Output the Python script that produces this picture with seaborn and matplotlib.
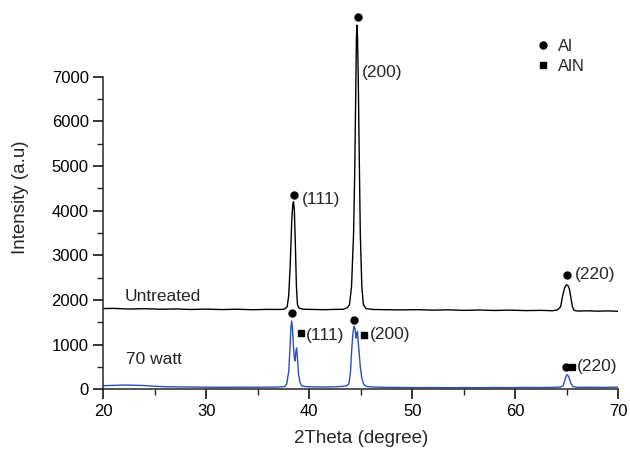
import matplotlib
matplotlib.use("Agg")
import matplotlib.pyplot as plt
import pandas as pd
import seaborn as sns
from matplotlib.ticker import MultipleLocator
from matplotlib.lines import Line2D

sns.set_style("ticks")
plt.rcParams['font.family'] = ['Liberation Sans', 'DejaVu Sans']

# untreated sample (black)
untreated_theta = [20, 21, 22.5, 24, 25.5, 27, 28.5, 30, 31.5, 33, 34.5, 36, 37.2, 37.6,
                   37.85, 38.0, 38.15, 38.3, 38.4, 38.47, 38.55, 38.65, 38.75, 38.85, 39.0, 39.4,
                   40.5, 41.5, 42.5, 43.3, 43.7, 43.9, 44.1, 44.3, 44.42, 44.5, 44.57, 44.62,
                   44.68, 44.75, 44.85, 44.95, 45.1, 45.25, 45.5, 46.2, 47.5, 49, 50.5, 52,
                   53.5, 55, 56.5, 58, 59.5, 61, 62.5, 63.6, 64.1, 64.4, 64.6, 64.8, 64.95,
                   65.1, 65.25, 65.4, 65.55, 65.7, 66.1, 67, 68, 69, 70]
untreated_int = [1810, 1815, 1800, 1808, 1795, 1802, 1790, 1798, 1788, 1795, 1785, 1792, 1790, 1800,
                 1850, 2100, 2800, 3800, 4150, 4200, 4000, 3200, 2300, 1900, 1820, 1795,
                 1790, 1785, 1792, 1795, 1830, 1900, 2300, 3500, 5000, 6500, 7800, 8150,
                 7900, 7000, 5200, 3500, 2300, 1900, 1810, 1790, 1785, 1780, 1786, 1775,
                 1782, 1770, 1778, 1768, 1775, 1765, 1770, 1762, 1780, 1850, 2100, 2280, 2340,
                 2330, 2250, 2050, 1850, 1770, 1755, 1760, 1752, 1758, 1750]

# 70 watt sample (blue)
watt_theta = [20, 21, 22, 23, 24, 25, 26, 27.5, 29, 30.5, 32, 33.5, 35, 36.5, 37.3, 37.6,
              37.8, 38.0, 38.12, 38.22, 38.29, 38.36, 38.45, 38.55, 38.62, 38.7, 38.77, 38.85,
              38.95, 39.1, 39.3, 39.8, 40.5, 41.5, 42.5, 43.3, 43.65, 43.85, 44.0, 44.12,
              44.25, 44.35, 44.45, 44.52, 44.6, 44.68, 44.75, 44.85, 44.95, 45.1, 45.3, 45.6,
              46.3, 47.5, 49, 50.5, 52, 53.5, 55, 56.5, 58, 59.5, 61, 62.5, 63.8, 64.4, 64.65,
              64.8, 64.95, 65.05, 65.2, 65.35, 65.55, 65.8, 66.5, 67.5, 68.5, 69.5, 70]
watt_int = [85, 92, 100, 95, 88, 72, 62, 58, 54, 50, 48, 52, 50, 53, 58, 65,
            120, 400, 900, 1400, 1530, 1400, 1000, 700, 640, 850, 930, 700,
            350, 150, 75, 62, 58, 55, 60, 72, 85, 130, 400, 900,
            1300, 1420, 1350, 1150, 1250, 1300, 1050, 800, 500, 250, 110, 65,
            55, 48, 45, 42, 44, 40, 43, 40, 45, 42, 46, 44, 48, 55, 85,
            200, 310, 330, 280, 160, 75, 52, 48, 50, 47, 52, 50]

# phase markers
al_theta = [38.51, 44.7, 64.99, 38.3, 44.37, 64.92]
al_int = [4360, 8340, 2570, 1700, 1550, 495]
aln_theta = [39.16, 45.34, 65.53]
aln_int = [1270, 1210, 500]

# peak labels
label_text = ['(111)', '(200)', '(220)', '(111)', '(200)', '(220)']
label_theta = [39.3, 45.1, 65.8, 39.68, 45.9, 65.95]
label_int = [4250, 7100, 2580, 1200, 1220, 520]

df_u = pd.DataFrame({'theta': untreated_theta, 'intensity': untreated_int})
df_w = pd.DataFrame({'theta': watt_theta, 'intensity': watt_int})

fig = plt.figure(figsize=(6.3, 4.53), dpi=100)
ax = fig.add_axes([0.164, 0.1402, 0.8174, 0.8488])

sns.lineplot(data=df_u, x='theta', y='intensity', color='black', lw=1.0, ax=ax)
sns.lineplot(data=df_w, x='theta', y='intensity', color='#2d4fb8', lw=1.0, ax=ax)
ax.plot(al_theta, al_int, 'o', color='black', ms=5, zorder=5)
ax.plot(aln_theta, aln_int, 's', color='black', ms=5, zorder=5)

for t, x, y in zip(label_text, label_theta, label_int):
    ax.text(x, y, t, fontsize=12.5, ha='left', va='center')
ax.text(22.1, 2090, 'Untreated', fontsize=12.5, ha='left', va='center')
ax.text(22.2, 680, '70 watt', fontsize=12.5, ha='left', va='center')

handles = [Line2D([], [], marker='o', ls='', color='black', ms=5),
           Line2D([], [], marker='s', ls='', color='black', ms=5)]
ax.legend(handles, ['Al', 'AlN'], loc='upper left', bbox_to_anchor=(0.827, 0.93),
          frameon=False, fontsize=12, handlelength=0.8, handletextpad=0.5,
          labelspacing=0.3, borderaxespad=0)

ax.set_xlim(20, 70)
ax.set_ylim(0, 8602)
ax.xaxis.set_major_locator(MultipleLocator(10))
ax.xaxis.set_minor_locator(MultipleLocator(5))
ax.set_yticks(range(0, 8000, 1000))
ax.set_yticks(range(500, 7000, 1000), minor=True)
ax.tick_params(which='major', direction='out', length=7, width=1.1, labelsize=12, colors='black')
ax.tick_params(which='minor', direction='out', length=4, width=1.0)
sns.despine(ax=ax)
ax.spines['left'].set_bounds(0, 7000)
ax.spines['left'].set_linewidth(1.1)
ax.spines['bottom'].set_linewidth(1.1)
ax.set_xlabel('2Theta (degree)', fontsize=13.5, labelpad=8)
ax.set_ylabel('Intensity (a.u)', fontsize=13.5, labelpad=16)

plt.savefig('out.png', dpi=100)
